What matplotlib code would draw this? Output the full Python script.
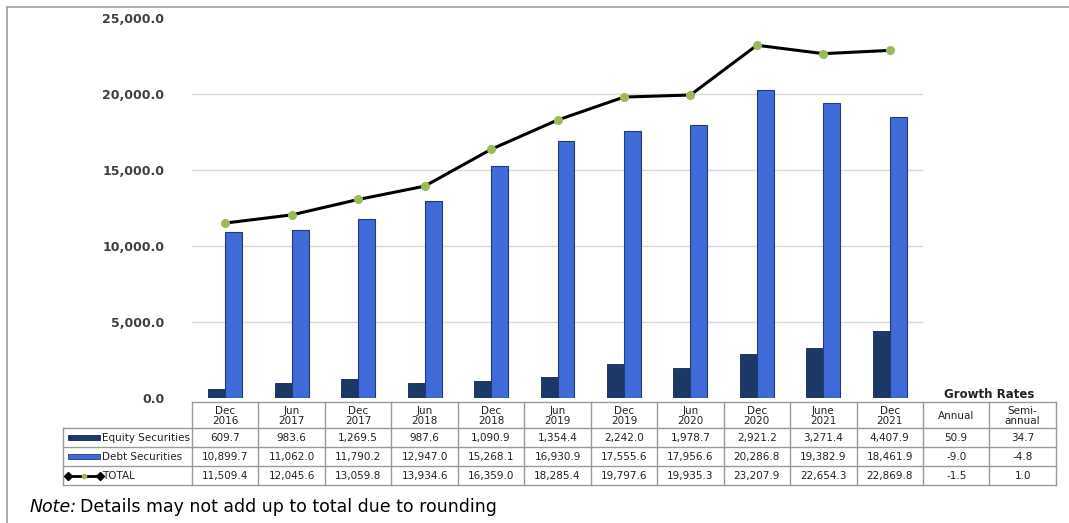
import matplotlib
matplotlib.use("Agg")
import matplotlib.pyplot as plt
from matplotlib.patches import Rectangle
from matplotlib.lines import Line2D

periods = ["Dec\n2016", "Jun\n2017", "Dec\n2017", "Jun\n2018", "Dec\n2018", "Jun\n2019",
           "Dec\n2019", "Jun\n2020", "Dec\n2020", "June\n2021", "Dec\n2021"]
equity = [609.7, 983.6, 1269.5, 987.6, 1090.9, 1354.4, 2242.0, 1978.7, 2921.2, 3271.4, 4407.9]
debt = [10899.7, 11062.0, 11790.2, 12947.0, 15268.1, 16930.9, 17555.6, 17956.6, 20286.8, 19382.9, 18461.9]
total = [11509.4, 12045.6, 13059.8, 13934.6, 16359.0, 18285.4, 19797.6, 19935.3, 23207.9, 22654.3, 22869.8]
growth_annual = [50.9, -9.0, -1.5]
growth_semi = [34.7, -4.8, 1.0]
y_ticks = [0, 5000, 10000, 15000, 20000, 25000]

EQ_COLOR = "#1B3866"
DEBT_COLOR = "#3F6AD8"
GRID = "#D9D9D9"
TXT = "#222222"

W, H = 1069, 523
fig = plt.figure(figsize=(W / 100, H / 100), dpi=100)

# overlay in pixel coordinates for frame, table and note
ov = fig.add_axes([0, 0, 1, 1], zorder=0)
ov.set_xlim(0, W)
ov.set_ylim(H, 0)
ov.axis("off")

# chart area
left, right, top, bottom = 192, 923, 18, 398
ax = fig.add_axes([left / W, 1 - bottom / H, (right - left) / W, (bottom - top) / H], zorder=1)
ax.patch.set_alpha(0)
n = len(periods)
x = list(range(n))
bw = 0.255
ax.bar([i - bw / 2 for i in x], equity, width=bw, color=EQ_COLOR, edgecolor="#14284A", linewidth=0.6, zorder=3)
ax.bar([i + bw / 2 for i in x], debt, width=bw, color=DEBT_COLOR, edgecolor="#22397A", linewidth=0.8, zorder=3)
ax.plot(x, total, color="black", linewidth=2.2, marker="o", markersize=5.5,
        markerfacecolor="#9BBB59", markeredgecolor="#9BBB59", zorder=4)
ax.set_xlim(-0.5, n - 0.5)
ax.set_ylim(0, 25000)
ax.set_yticks(y_ticks)
ax.set_yticklabels([f"{v:,.1f}" for v in y_ticks], fontsize=9, fontweight="bold", color="#404040")
ax.set_xticks([])
ax.tick_params(axis="y", length=0, pad=20)
for v in y_ticks[1:-1]:
    ax.axhline(v, color=GRID, linewidth=1, zorder=1)
for s in ax.spines.values():
    s.set_visible(False)

# outer frame (top and left)
ov.add_line(Line2D([7, W], [7, 7], color="#A0A0A0", linewidth=1.2))
ov.add_line(Line2D([7, 7], [7, H], color="#A0A0A0", linewidth=1.2))

# data table
col_w = (right - left) / n
lab_left = 63
table_right = right + 2 * col_w
hdr_top, hdr_bot = 402, 428
row_edges = [428, 447, 466, 485]
line_kw = dict(color="#9A9A9A", linewidth=1)

ov.add_line(Line2D([left, table_right], [hdr_top, hdr_top], **line_kw))
for yv in row_edges:
    ov.add_line(Line2D([lab_left, table_right], [yv, yv], **line_kw))
ov.add_line(Line2D([lab_left, lab_left], [row_edges[0], row_edges[-1]], **line_kw))
for k in range(n + 3):
    xv = left + k * col_w
    ov.add_line(Line2D([xv, xv], [hdr_top, row_edges[-1]], **line_kw))

fs = 7.5
headers = periods + ["Annual", "Semi-\nannual"]
for k, h in enumerate(headers):
    ov.text(left + (k + 0.5) * col_w, (hdr_top + hdr_bot) / 2 + 1, h, ha="center", va="center",
            fontsize=fs, color=TXT, linespacing=1.0)
ov.text(left + (n + 1) * col_w, 395, "Growth Rates", ha="center", va="center",
        fontsize=8.5, fontweight="bold", color=TXT)

rows = [equity + growth_annual[:1] + growth_semi[:1],
        debt + growth_annual[1:2] + growth_semi[1:2],
        total + growth_annual[2:] + growth_semi[2:]]
for r, vals in enumerate(rows):
    yc = (row_edges[r] + row_edges[r + 1]) / 2 + 0.5
    for k, v in enumerate(vals):
        ov.text(left + (k + 0.5) * col_w, yc, f"{v:,.1f}", ha="center", va="center",
                fontsize=fs, color=TXT)

# legend keys in the label column
names = ["Equity Securities", "Debt Securities", "TOTAL"]
for r, name in enumerate(names):
    yc = (row_edges[r] + row_edges[r + 1]) / 2
    if r == 0:
        ov.add_patch(Rectangle((68, yc - 2.5), 32, 5, facecolor=EQ_COLOR, edgecolor="#14284A", linewidth=0.6))
    elif r == 1:
        ov.add_patch(Rectangle((68, yc - 2.5), 32, 5, facecolor=DEBT_COLOR, edgecolor="#22397A", linewidth=0.6))
    else:
        ov.add_line(Line2D([68, 100], [yc, yc], color="black", linewidth=2))
        ov.plot([68, 100], [yc, yc], linestyle="none", marker="D", markersize=4, color="black")
        ov.plot([84], [yc], linestyle="none", marker="o", markersize=3, color="#9BBB59")
    ov.text(102, yc + 0.5, name, ha="left", va="center", fontsize=fs, color=TXT)

# note
ov.text(30, 507, "Note:", ha="left", va="center", fontsize=12.5, style="italic", color="black")
ov.text(80, 507, "Details may not add up to total due to rounding", ha="left", va="center",
        fontsize=12.5, color="black")

fig.savefig("out.png", dpi=100)
